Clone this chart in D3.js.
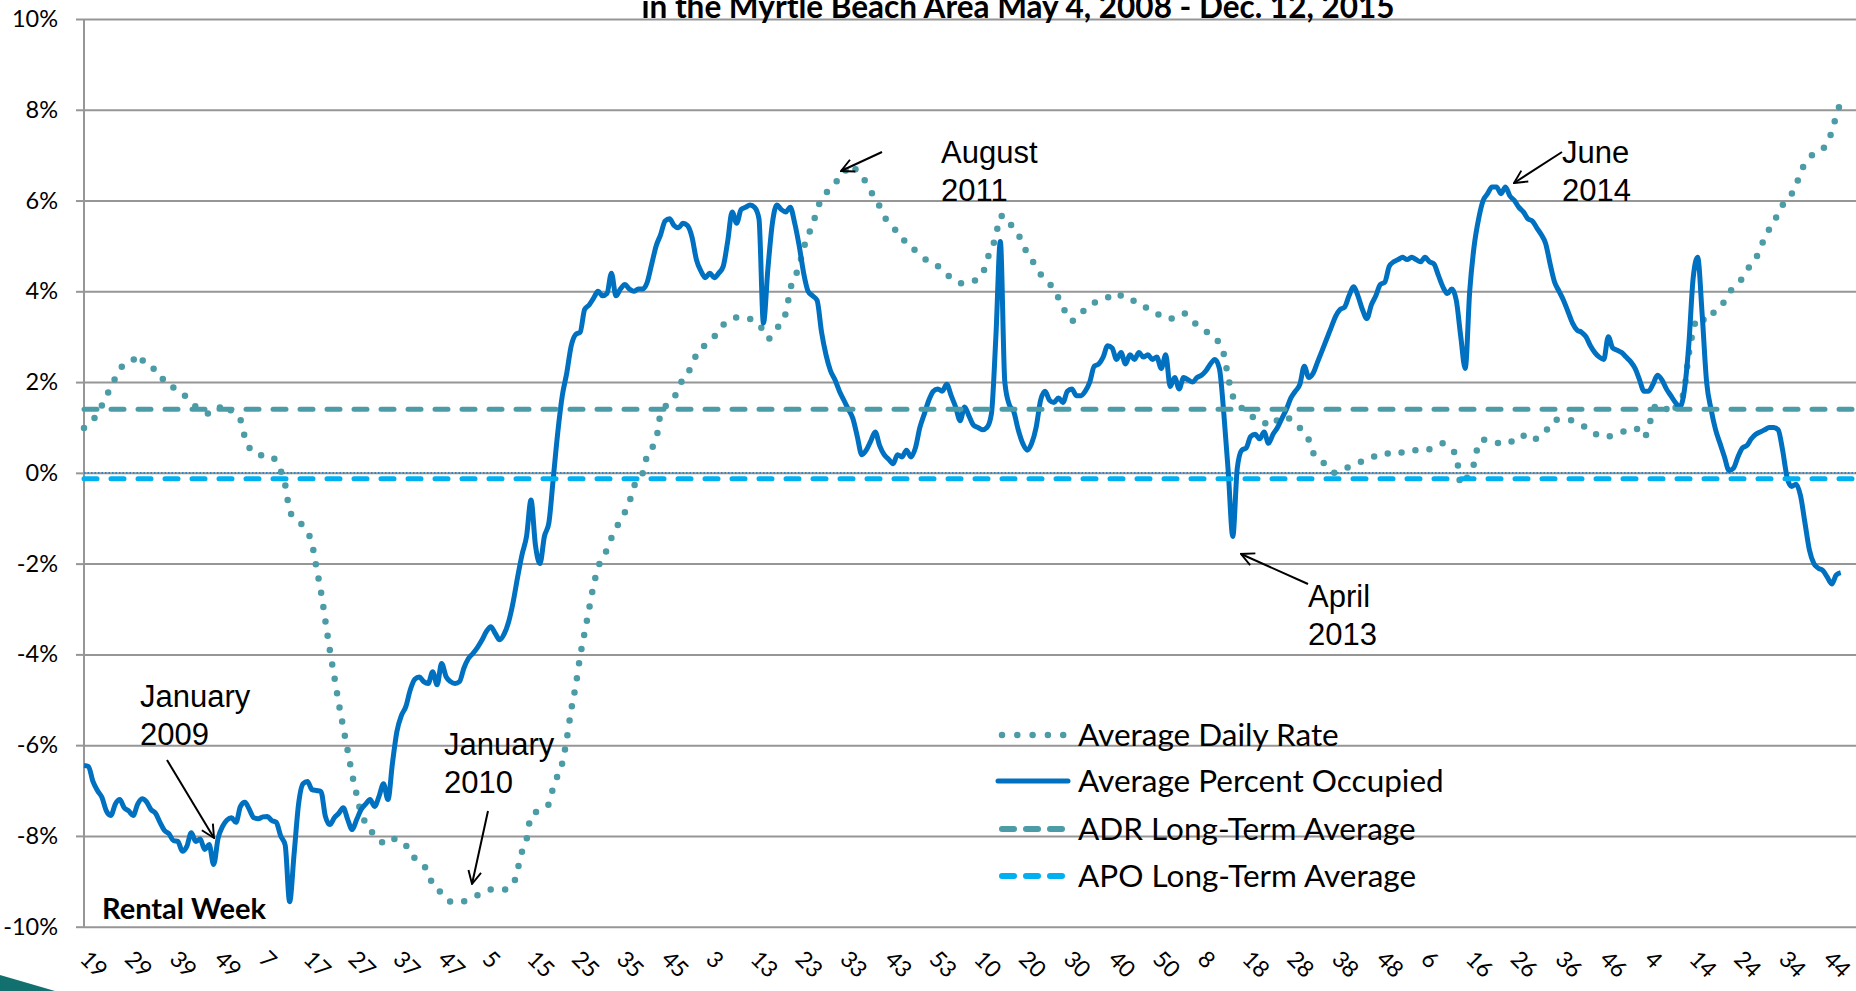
<!DOCTYPE html>
<html>
<head>
<meta charset="utf-8">
<script src="https://cdn.jsdelivr.net/npm/d3@7"></script>
<style>
  html, body { margin: 0; padding: 0; background: #ffffff; overflow: hidden; }
  svg { display: block; }
</style>
</head>
<body>
<svg id="chart" width="1856" height="991"></svg>
<script>
// ---------------- DATA ----------------
// x-axis tick labels (rental week number), one every 10 weeks starting at week 19 of 2008
const xTickLabels = ["19","29","39","49","7","17","27","37","47","5","15","25","35","45","3","13","23","33","43","53",
                     "10","20","30","40","50","8","18","28","38","48","6","16","26","36","46","4","14","24","34","44"];
const xTickIndex = [0,10,20,30,40,50,60,70,80,90,100,110,120,130,140,150,160,170,180,190,
                    200,210,220,230,240,250,260,270,280,290,300,310,320,330,340,350,360,370,380,390];
const yTickValues = [-10,-8,-6,-4,-2,0,2,4,6,8,10];

// Average Percent Occupied (% change), one value per rental week (week index 0..393)
const apoValues = [
  -6.45,-6.47,-6.8,-7.0,-7.15,-7.45,-7.55,-7.3,-7.2,-7.38,
  -7.45,-7.55,-7.3,-7.18,-7.25,-7.42,-7.5,-7.7,-7.88,-7.95,
  -8.1,-8.12,-8.34,-8.23,-7.93,-8.12,-8.07,-8.3,-8.19,-8.63,
  -8.05,-7.79,-7.65,-7.6,-7.7,-7.35,-7.26,-7.42,-7.6,-7.62,
  -7.58,-7.57,-7.66,-7.7,-8.0,-8.2,-9.45,-8.4,-7.3,-6.85,
  -6.8,-6.98,-7.0,-7.02,-7.57,-7.75,-7.6,-7.5,-7.38,-7.64,
  -7.86,-7.64,-7.42,-7.3,-7.2,-7.35,-7.13,-6.85,-7.2,-6.4,
  -5.7,-5.35,-5.15,-4.78,-4.55,-4.5,-4.6,-4.64,-4.38,-4.67,
  -4.2,-4.49,-4.6,-4.64,-4.6,-4.3,-4.09,-3.98,-3.85,-3.69,
  -3.5,-3.39,-3.54,-3.68,-3.55,-3.28,-2.85,-2.3,-1.8,-1.4,
  -0.6,-1.6,-2.0,-1.4,-1.1,-0.1,0.9,1.7,2.2,2.8,
  3.05,3.1,3.6,3.7,3.85,4.0,3.9,3.95,4.4,3.9,
  4.05,4.15,4.05,4.0,4.05,4.05,4.2,4.6,5.0,5.25,
  5.55,5.6,5.45,5.4,5.5,5.45,5.2,4.7,4.45,4.3,
  4.4,4.3,4.4,4.55,5.1,5.75,5.5,5.8,5.85,5.9,
  5.85,5.6,3.3,4.5,5.5,5.9,5.8,5.75,5.85,5.5,
  5.0,4.4,4.0,3.9,3.8,3.1,2.6,2.25,2.05,1.8,
  1.6,1.4,1.2,0.8,0.4,0.5,0.7,0.9,0.6,0.4,
  0.3,0.2,0.4,0.35,0.5,0.35,0.55,1.0,1.3,1.6,
  1.8,1.85,1.8,1.95,1.7,1.45,1.15,1.45,1.25,1.05,
  1.0,0.95,1.0,1.3,3.0,5.1,2.0,1.5,1.35,0.95,
  0.65,0.5,0.65,1.0,1.6,1.8,1.6,1.55,1.65,1.55,
  1.8,1.85,1.7,1.7,1.8,2.0,2.35,2.4,2.55,2.8,
  2.75,2.5,2.65,2.4,2.6,2.5,2.65,2.55,2.6,2.5,
  2.55,2.3,2.6,1.9,2.1,1.85,2.1,2.05,2.0,2.1,
  2.15,2.25,2.4,2.5,2.3,1.3,0.0,-1.4,0.1,0.5,
  0.55,0.8,0.85,0.75,0.9,0.65,0.85,1.0,1.2,1.4,
  1.65,1.8,1.95,2.35,2.1,2.2,2.45,2.7,2.95,3.2,
  3.45,3.6,3.65,3.9,4.1,3.9,3.6,3.4,3.7,3.9,
  4.15,4.2,4.55,4.65,4.7,4.75,4.7,4.75,4.7,4.65,
  4.75,4.65,4.6,4.35,4.1,3.95,4.05,3.8,3.0,2.3,
  4.0,5.0,5.6,6.0,6.15,6.3,6.3,6.15,6.3,6.1,
  6.0,5.85,5.75,5.6,5.55,5.4,5.25,5.05,4.6,4.2,
  4.0,3.8,3.55,3.3,3.15,3.1,3.0,2.8,2.65,2.55,
  2.5,3.0,2.75,2.7,2.65,2.55,2.45,2.3,2.05,1.8,
  1.8,1.95,2.15,2.05,1.85,1.7,1.55,1.45,1.8,2.8,
  4.3,4.75,3.5,2.0,1.4,0.95,0.65,0.35,0.05,0.1,
  0.35,0.55,0.6,0.75,0.85,0.9,0.95,1.0,1.0,0.95,
  0.5,-0.1,-0.3,-0.25,-0.5,-1.1,-1.7,-2.0,-2.1,-2.15,
  -2.3,-2.45,-2.25,-2.2
];

// Average Daily Rate (% change), [week index, value]
const adrSamples = [
  [0,0.99],[3,1.30],[5,1.69],[7,2.09],[8,2.29],[11,2.48],[12,2.61],[14,2.35],[16,2.27],[17,2.09],
  [19,2.03],[20,1.88],[22,1.75],[24,1.56],[25,1.46],[27,1.36],[28,1.30],[30,1.38],[31,1.51],[33,1.36],
  [35,1.17],[36,0.78],[38,0.44],[39,0.39],[41,0.39],[43,0.26],[44,0.05],[45,-0.26],[46,-0.83],[47,-0.99],
  [49,-1.17],[51,-1.56],[52,-2.09],[53,-2.61],[54,-3.26],[55,-3.91],[56,-4.49],[57,-5.08],[58,-5.61],[59,-6.13],
  [60,-6.65],[61,-7.09],[62,-7.51],[64,-7.82],[65,-8.03],[67,-8.14],[69,-8.03],[70,-8.14],[72,-8.21],[73,-8.40],
  [75,-8.55],[77,-8.81],[78,-9.07],[80,-9.26],[81,-9.39],[83,-9.47],[84,-9.47],[86,-9.39],[88,-9.31],[89,-9.26],
  [91,-9.18],[92,-9.18],[94,-9.18],[96,-9.07],[97,-8.74],[98,-8.34],[99,-8.08],[100,-7.56],[102,-7.43],[104,-7.30],
  [105,-6.91],[107,-6.39],[108,-5.87],[109,-5.22],[110,-4.69],[111,-4.04],[112,-3.52],[113,-3.00],[114,-2.48],[115,-2.09],
  [117,-1.69],[118,-1.43],[120,-1.04],[122,-0.65],[123,-0.31],[125,0.00],[126,0.39],[128,0.73],[129,1.30],[131,1.56],
  [133,1.83],[134,2.09],[136,2.35],[137,2.61],[139,2.82],[141,3.00],[143,3.26],[145,3.39],[147,3.44],[149,3.39],
  [151,3.26],[152,3.13],[153,2.95],[155,3.18],[157,3.52],[158,4.04],[160,4.56],[161,4.95],[163,5.48],[165,6.05],
  [167,6.26],[168,6.39],[170,6.57],[171,6.78],[173,6.65],[175,6.39],[176,6.21],[178,5.87],[179,5.66],[181,5.40],
  [183,5.22],[184,5.03],[186,4.90],[187,4.82],[189,4.64],[192,4.49],[193,4.38],[195,4.22],[197,4.17],[199,4.22],
  [201,4.38],[202,4.69],[204,5.22],[205,5.66],[206,5.66],[208,5.35],[210,5.08],[211,4.82],[213,4.56],[214,4.38],
  [216,4.17],[217,4.04],[219,3.65],[221,3.34],[222,3.44],[224,3.60],[225,3.70],[227,3.78],[229,3.86],[230,3.96],
  [232,3.91],[233,3.91],[235,3.78],[237,3.70],[238,3.60],[240,3.52],[241,3.44],[243,3.39],[244,3.44],[246,3.52],
  [248,3.34],[249,3.26],[251,3.13],[252,3.00],[254,2.87],[255,2.61],[256,2.09],[257,1.69],[258,1.56],[259,1.43],
  [261,1.30],[262,1.17],[264,1.10],[266,1.04],[267,1.17],[269,1.25],[270,1.15],[272,0.99],[274,0.73],[275,0.44],
  [277,0.26],[278,0.13],[280,0.00],[281,0.05],[283,0.13],[285,0.21],[286,0.26],[288,0.31],[289,0.39],[291,0.44],
  [293,0.39],[294,0.42],[296,0.50],[297,0.52],[299,0.47],[301,0.52],[302,0.57],[304,0.65],[305,0.57],[307,0.39],
  [308,-0.26],[310,0.00],[311,0.21],[312,0.65],[313,0.73],[315,0.70],[316,0.65],[318,0.73],[320,0.68],[321,0.78],
  [323,0.83],[324,0.73],[326,0.83],[328,1.04],[329,1.17],[331,1.17],[332,1.17],[334,1.10],[336,0.99],[337,0.89],
  [339,0.83],[340,0.78],[342,0.83],[344,0.89],[345,0.94],[347,0.99],[348,0.91],[349,0.78],[350,0.99],[351,1.36],
  [352,1.51],[354,1.41],[355,1.30],[356,1.43],[357,1.56],[358,1.83],[359,2.61],[360,3.13],[361,3.44],[362,3.39],
  [363,3.34],[364,3.44],[365,3.60],[367,3.78],[368,3.96],[370,4.17],[372,4.43],[373,4.64],[375,4.90],[376,5.22],
  [378,5.48],[379,5.74],[381,6.02],[383,6.32],[384,6.63],[385,6.80],[387,7.04],[390,7.24],[391,7.53],[392,7.86],
  [393,8.18]
];

// long-term averages (%)
const adrLongTermAverage = 1.4;
const apoLongTermAverage = -0.13;

const seriesNames = ["Average Daily Rate","Average Percent Occupied","ADR Long-Term Average","APO Long-Term Average"];

const annotations = [
  {lines:["January","2009"], tx:140, ty:707, from:[167,760], to:[214,838]},
  {lines:["January","2010"], tx:444, ty:755, from:[488,811], to:[472,884]},
  {lines:["August","2011"],  tx:941, ty:163, from:[882,152], to:[841,171]},
  {lines:["April","2013"],   tx:1308, ty:607, from:[1308,584], to:[1241,554]},
  {lines:["June","2014"],    tx:1562, ty:163, from:[1562,152], to:[1514,183]}
];

// ---------------- DRAW ----------------
const W = 1856, H = 991;
const svg = d3.select("#chart");
svg.append("rect").attr("width", W).attr("height", H).attr("fill", "#ffffff");

const x = d3.scaleLinear().domain([0, 393]).range([84, 84 + 393 * 4.47]);
const y = d3.scaleLinear().domain([-10, 10]).range([926.7, 19]);

const GRID = "#969696";
const ADR_COLOR = "#4B9CA6";
const APO_COLOR = "#0070C0";
const APO_AVG_COLOR = "#00B0F0";
const FONT = "Lato, 'Open Sans', sans-serif";
const ARIAL = "'Liberation Sans', Arial, sans-serif";

// gridlines
const grid = svg.append("g").attr("transform", "translate(84,0)")
  .call(d3.axisLeft(y).tickValues(yTickValues).tickSize(-(W - 84)).tickFormat(""));
grid.select(".domain").remove();
grid.selectAll("line").attr("stroke", GRID).attr("stroke-width", 2);

// y axis with labels and small tick marks
const yAxis = svg.append("g").attr("transform", "translate(84,0)")
  .call(d3.axisLeft(y).tickValues(yTickValues).tickSize(8).tickPadding(18).tickFormat(d => d + "%"));
yAxis.select(".domain").attr("stroke", GRID).attr("stroke-width", 2).attr("d", `M0,${y(10)}V${y(-10)}`);
yAxis.selectAll("line").attr("stroke", GRID).attr("stroke-width", 2);
yAxis.selectAll("text").attr("font-family", FONT).attr("font-size", 23.5).attr("fill", "#000");

// x axis labels (rotated)
const xAxis = svg.append("g").attr("transform", `translate(0,${y(-10)})`)
  .call(d3.axisBottom(x).tickValues(xTickIndex).tickSize(0).tickFormat((d, i) => xTickLabels[i]));
xAxis.select(".domain").remove();
xAxis.selectAll("text")
  .attr("font-family", FONT).attr("font-size", 23).attr("fill", "#000")
  .attr("text-anchor", "start")
  .attr("y", 0).attr("dy", "0.72em")
  .attr("transform", "translate(6,22) rotate(45)");

// zero reference line (thin dotted)
svg.append("line")
  .attr("x1", 84).attr("x2", W).attr("y1", y(0)).attr("y2", y(0))
  .attr("stroke", APO_COLOR).attr("stroke-width", 1.2).attr("stroke-dasharray", "1.5,2");

// ADR dotted series
const adrLine = d3.line().x(d => x(d[0])).y(d => y(d[1])).curve(d3.curveMonotoneX);
svg.append("path").datum(adrSamples)
  .attr("d", adrLine).attr("fill", "none")
  .attr("stroke", ADR_COLOR).attr("stroke-width", 6.5)
  .attr("stroke-linecap", "round").attr("stroke-dasharray", "0,14.5");

// APO solid series
const apoLine = d3.line().x((d, i) => x(i)).y(d => y(d)).curve(d3.curveMonotoneX);
svg.append("path").datum(apoValues)
  .attr("d", apoLine).attr("fill", "none")
  .attr("stroke", APO_COLOR).attr("stroke-width", 5).attr("stroke-linejoin", "round");

// long term averages
svg.append("line").attr("x1", x(0)).attr("x2", W).attr("y1", y(adrLongTermAverage)).attr("y2", y(adrLongTermAverage))
  .attr("stroke", ADR_COLOR).attr("stroke-width", 5).attr("stroke-linecap", "round").attr("stroke-dasharray", "13,14");
svg.append("line").attr("x1", x(0)).attr("x2", W).attr("y1", y(apoLongTermAverage)).attr("y2", y(apoLongTermAverage))
  .attr("stroke", APO_AVG_COLOR).attr("stroke-width", 5).attr("stroke-linecap", "round").attr("stroke-dasharray", "13,14");

// "Rental Week"
svg.append("text").attr("x", 102).attr("y", 919).text("Rental Week")
  .attr("font-family", FONT).attr("font-weight", 700).attr("font-size", 29).attr("fill", "#000");

// title (top line visible only)
svg.append("text").attr("x", 1018).attr("y", 18).attr("text-anchor", "middle")
  .text("in the Myrtle Beach Area May 4, 2008 - Dec. 12, 2015")
  .attr("font-family", FONT).attr("font-weight", 700).attr("font-size", 31.5).attr("fill", "#000");

// annotations
const defs = svg.append("defs");
defs.append("marker").attr("id", "arrow").attr("viewBox", "0 0 14 14")
  .attr("refX", 13).attr("refY", 7).attr("markerWidth", 15).attr("markerHeight", 15)
  .attr("markerUnits", "userSpaceOnUse").attr("orient", "auto")
  .append("path").attr("d", "M1,1 L13,7 L1,13").attr("fill", "none").attr("stroke", "#000").attr("stroke-width", 1.8);

annotations.forEach(a => {
  svg.append("line").attr("x1", a.from[0]).attr("y1", a.from[1]).attr("x2", a.to[0]).attr("y2", a.to[1])
    .attr("stroke", "#000").attr("stroke-width", 2).attr("marker-end", "url(#arrow)");
  const t = svg.append("text").attr("font-family", ARIAL).attr("font-size", 31).attr("fill", "#000");
  a.lines.forEach((l, i) => t.append("tspan").attr("x", a.tx).attr("y", a.ty + i * 38).text(l));
});

// legend
const legendY = [735, 781, 829, 876];
const lg = svg.append("g");
seriesNames.forEach((name, i) => {
  const yy = legendY[i];
  const sym = lg.append("line").attr("x1", 1002).attr("x2", 1064).attr("y1", yy).attr("y2", yy);
  if (i === 0) sym.attr("stroke", ADR_COLOR).attr("stroke-width", 6.5).attr("stroke-linecap", "round").attr("stroke-dasharray", "0,15.3");
  if (i === 1) sym.attr("x1", 998).attr("x2", 1068).attr("stroke", APO_COLOR).attr("stroke-width", 5).attr("stroke-linecap", "round");
  if (i === 2) sym.attr("stroke", ADR_COLOR).attr("stroke-width", 6).attr("stroke-linecap", "round").attr("stroke-dasharray", "12,12");
  if (i === 3) sym.attr("stroke", APO_AVG_COLOR).attr("stroke-width", 6).attr("stroke-linecap", "round").attr("stroke-dasharray", "12,12");
  lg.append("text").attr("x", 1078).attr("y", yy).attr("dy", "0.36em").text(name)
    .attr("font-family", FONT).attr("font-size", 31.5).attr("fill", "#000");
});

// slide decoration bottom-left
svg.append("path").attr("d", "M0,975 L55,991 L0,991 Z").attr("fill", "#12716F");
</script>
</body>
</html>
